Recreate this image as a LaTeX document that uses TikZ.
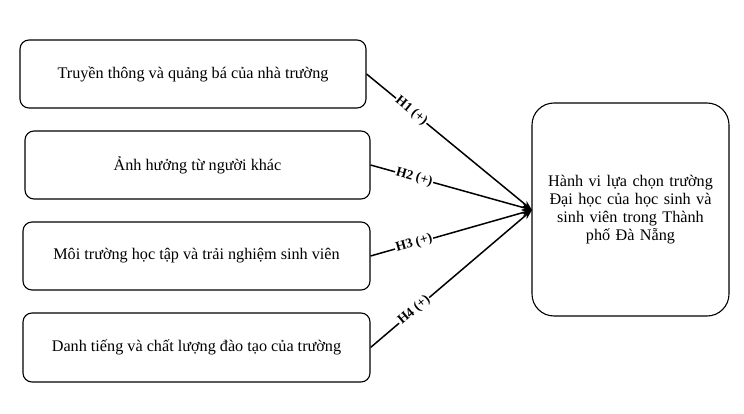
\documentclass[tikz,border=0pt]{standalone}
\usepackage{fontspec}
\setmainfont{Liberation Serif}
\usetikzlibrary{arrows.meta}
\begin{document}
\begin{tikzpicture}[x=1pt,y=-1pt,
  box/.style={draw,line width=1.1pt,rounded corners=9pt,inner sep=0pt,font=\fontsize{16.2}{18}\selectfont,align=center},
  arr/.style={line width=1.5pt,-{Stealth[length=10pt,width=7pt]}},
  lab/.style={pos=0.27,sloped,fill=white,inner sep=1pt,font=\bfseries\fontsize{13.5}{15}\selectfont}]
\useasboundingbox (0,0) rectangle (744,414);
\node[box,minimum width=346pt,minimum height=68pt] (b1) at (193,74) {Truyền thông và quảng bá của nhà trường};
\node[box,minimum width=345pt,minimum height=68pt] (b2) at (197.5,165) {Ảnh hưởng từ người khác};
\node[box,minimum width=347pt,minimum height=68pt] (b3) at (196.5,256) {Môi trường học tập và trải nghiệm sinh viên};
\node[box,minimum width=347pt,minimum height=69pt] (b4) at (196.5,347.5) {Danh tiếng và chất lượng đào tạo của trường};
\node[box,minimum width=197pt,minimum height=213pt,rounded corners=22pt,text width=185pt] (r) at (630.5,209.5) {Hành vi lựa chọn trường\\Đại học của học sinh và\\sinh viên trong Thành\\phố Đà Nẵng};
\coordinate (t) at (532,210);
\draw[arr] (b1.east) -- node[lab]{H1 (+)} (t);
\draw[arr] (b2.east) -- node[lab]{H2 (+)} (t);
\draw[arr] (b3.east) -- node[lab]{H3 (+)} (t);
\draw[arr] (b4.east) -- node[lab]{H4 (+)} (t);
\end{tikzpicture}
\end{document}
